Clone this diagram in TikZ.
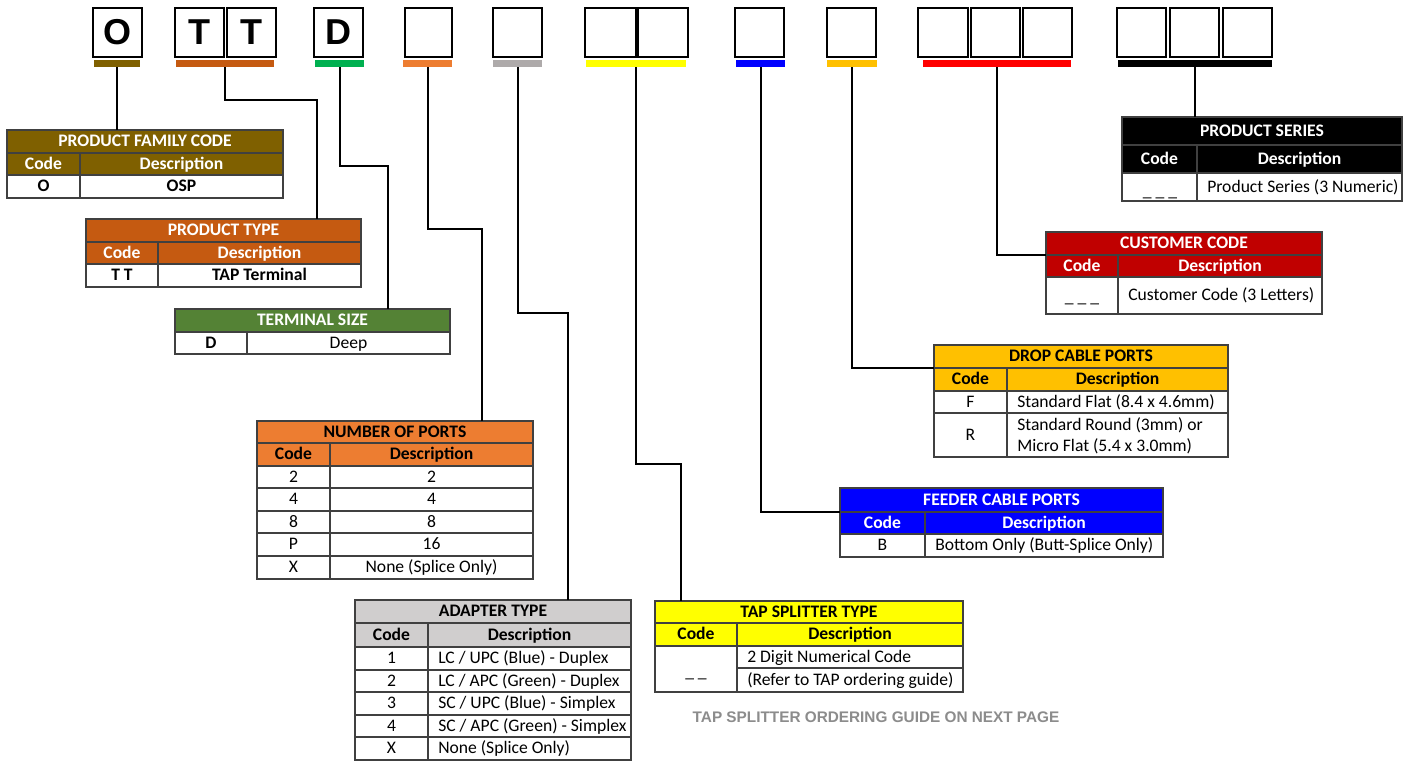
\documentclass[tikz,border=0pt]{standalone}
\usepackage{fontspec}
\setmainfont{Carlito}
\newfontfamily\arialf{Liberation Sans}
\definecolor{cfam}{HTML}{7F6000}
\definecolor{ctype}{HTML}{C55A11}
\definecolor{cterm}{HTML}{548235}
\definecolor{cgreen}{HTML}{00B050}
\definecolor{cports}{HTML}{ED7D31}
\definecolor{cadhdr}{HTML}{D0CECE}
\definecolor{cadbar}{HTML}{AEAAAA}
\definecolor{ctap}{HTML}{FFFF00}
\definecolor{cfeed}{HTML}{0000FF}
\definecolor{cdrop}{HTML}{FFC000}
\definecolor{ccust}{HTML}{C00000}
\definecolor{cred}{HTML}{FF0000}
\definecolor{cgrid}{HTML}{404040}
\definecolor{cnote}{HTML}{8C8C8C}
\newcommand\tf{\fontsize{13.2}{15.8}\selectfont}
\newcommand\cell[7]{%
  \pgfmathsetmacro\cellw{(#4-#2)*0.75}%
  \pgfmathsetmacro\cellh{(#5-#3)*0.75}%
  \node[cellbase, minimum width=\cellw pt, minimum height=\cellh pt, #6] (#1) at ({(#2+#4)/2},{(#3+#5)/2}) {#7};}
\newcommand\lcell[6]{%
  \pgfmathsetmacro\cellw{(#4-#2)*0.75}%
  \pgfmathsetmacro\cellh{(#5-#3)*0.75}%
  \node[cellbase, minimum width=\cellw pt, minimum height=\cellh pt] (#1) at ({(#2+#4)/2},{(#3+#5)/2}) {};
  \node[ltext] (#1-t) at ({#2+10},{(#3+#5)/2}) {#6};}
\newcommand\topbox[4]{%
  \pgfmathsetmacro\cellw{(#3-#2)*0.75}%
  \node[lbox, minimum width=\cellw pt] (#1) at ({(#2+#3)/2},32.5) {#4};}
\newcommand\codebar[4]{%
  \pgfmathsetmacro\cellw{(#3-#2)*0.75}%
  \node[cbar, fill=#4, minimum width=\cellw pt] (#1) at ({(#2+#3)/2},63.5) {};}
\tikzset{
  cellbase/.style={draw=cgrid, line width=0.8pt, inner sep=0pt, outer sep=0pt, font=\tf, anchor=center, fill=white, text height=8.4pt, text depth=0.2pt},
  hdr/.style 2 args={fill=#1, text=#2, font=\tf\bfseries},
  bold/.style={font=\tf\bfseries},
  ltext/.style={anchor=west, inner sep=0pt, font=\tf, align=left, text height=8.4pt, text depth=0.2pt},
  ltwo/.style={anchor=west, inner sep=0pt, font=\tf, align=left},
  lbox/.style={draw=black, line width=1.6pt, inner sep=0pt, minimum height=36.75pt, font=\arialf\bfseries\fontsize{27}{27}\selectfont},
  cbar/.style={draw=none, inner sep=0pt, minimum height=5.25pt},
  conn/.style={draw=black, line width=1.5pt},
  note/.style={font=\arialf\bfseries\fontsize{11.5}{13}\selectfont, text=cnote},
  dashtxt/.style={anchor=base, font=\tf, inner sep=0pt}
}
\begin{document}
\begin{tikzpicture}[x=0.75pt, y=-0.75pt]
\useasboundingbox[fill=white] (0,0) rectangle (1404,761);
% top code boxes
\topbox{bO}{93}{142}{O}
\topbox{bT1}{175}{224}{T}
\topbox{bT2}{227}{276}{T}
\topbox{bD}{314}{363}{D}
\topbox{bP}{405}{452}{}
\topbox{bA}{493}{542}{}
\topbox{bS1}{585}{636}{}
\topbox{bS2}{638}{688}{}
\topbox{bF}{735}{784}{}
\topbox{bDr}{827}{876}{}
\topbox{bC1}{918}{968}{}
\topbox{bC2}{971}{1020}{}
\topbox{bC3}{1023}{1072}{}
\topbox{bSe1}{1117}{1166}{}
\topbox{bSe2}{1170}{1219}{}
\topbox{bSe3}{1223}{1272}{}
% colour bars
\codebar{barO}{94}{140}{cfam}
\codebar{barTT}{176}{274}{ctype}
\codebar{barD}{315}{364}{cgreen}
\codebar{barP}{403}{452}{cports}
\codebar{barA}{493}{542}{cadbar}
\codebar{barS}{586}{686}{ctap}
\codebar{barF}{736}{785}{cfeed}
\codebar{barDr}{827}{877}{cdrop}
\codebar{barC}{923}{1071}{cred}
\codebar{barSe}{1118}{1272}{black}
% PRODUCT FAMILY CODE
\cell{famT}{7}{130}{283}{153}{hdr={cfam}{white}}{PRODUCT FAMILY CODE}
\cell{famC}{7}{153}{80}{175}{hdr={cfam}{white}}{Code}
\cell{famD}{80}{153}{283}{175}{hdr={cfam}{white}}{Description}
\cell{fam1a}{7}{175}{80}{198}{bold}{O}
\cell{fam1b}{80}{175}{283}{198}{bold}{OSP}
% PRODUCT TYPE
\cell{typeT}{86}{219}{361}{242}{hdr={ctype}{white}}{PRODUCT TYPE}
\cell{typeC}{86}{242}{158}{264}{hdr={ctype}{white}}{Code}
\cell{typeD}{158}{242}{361}{264}{hdr={ctype}{white}}{Description}
\cell{type1a}{86}{264}{158}{287}{bold}{T T}
\cell{type1b}{158}{264}{361}{287}{bold}{TAP Terminal}
% TERMINAL SIZE
\cell{termT}{175}{309}{450}{332}{hdr={cterm}{white}}{TERMINAL SIZE}
\cell{term1a}{175}{332}{247}{354}{bold}{D}
\cell{term1b}{247}{332}{450}{354}{}{Deep}
% NUMBER OF PORTS
\cell{portsT}{257}{421}{533}{443}{hdr={cports}{black}}{NUMBER OF PORTS}
\cell{portsC}{257}{443}{330}{466}{hdr={cports}{black}}{Code}
\cell{portsD}{330}{443}{533}{466}{hdr={cports}{black}}{Description}
\cell{p1a}{257}{466}{330}{488}{}{2}
\cell{p1b}{330}{466}{533}{488}{}{2}
\cell{p2a}{257}{488}{330}{511}{}{4}
\cell{p2b}{330}{488}{533}{511}{}{4}
\cell{p3a}{257}{511}{330}{533}{}{8}
\cell{p3b}{330}{511}{533}{533}{}{8}
\cell{p4a}{257}{533}{330}{556}{}{P}
\cell{p4b}{330}{533}{533}{556}{}{16}
\cell{p5a}{257}{556}{330}{579}{}{X}
\cell{p5b}{330}{556}{533}{579}{}{None (Splice Only)}
% ADAPTER TYPE
\cell{adT}{355}{600}{631}{623}{hdr={cadhdr}{black}}{ADAPTER TYPE}
\cell{adC}{355}{623}{428}{647}{hdr={cadhdr}{black}}{Code}
\cell{adD}{428}{623}{631}{647}{hdr={cadhdr}{black}}{Description}
\cell{a1a}{355}{647}{428}{670}{}{1}
\lcell{a1b}{428}{647}{631}{670}{LC / UPC (Blue) - Duplex}
\cell{a2a}{355}{670}{428}{692}{}{2}
\lcell{a2b}{428}{670}{631}{692}{LC / APC (Green) - Duplex}
\cell{a3a}{355}{692}{428}{715}{}{3}
\lcell{a3b}{428}{692}{631}{715}{SC / UPC (Blue) - Simplex}
\cell{a4a}{355}{715}{428}{737}{}{4}
\lcell{a4b}{428}{715}{631}{737}{SC / APC (Green) - Simplex}
\cell{a5a}{355}{737}{428}{760}{}{X}
\lcell{a5b}{428}{737}{631}{760}{None (Splice Only)}
% TAP SPLITTER TYPE
\cell{tapT}{655}{601}{963}{623}{hdr={ctap}{black}}{TAP SPLITTER TYPE}
\cell{tapC}{655}{623}{737}{646}{hdr={ctap}{black}}{Code}
\cell{tapD}{737}{623}{963}{646}{hdr={ctap}{black}}{Description}
\cell{t1a}{655}{646}{737}{692}{}{}
\lcell{t1b}{737}{646}{963}{668}{2 Digit Numerical Code}
\lcell{t2b}{737}{668}{963}{692}{(Refer to TAP ordering guide)}
\node[dashtxt] (tdash) at (696,677) {\_ \_};
\node[note] (tnote) at (876,717) {TAP SPLITTER ORDERING GUIDE ON NEXT PAGE};
% FEEDER CABLE PORTS
\cell{feT}{840}{488}{1163}{512}{hdr={cfeed}{white}}{FEEDER CABLE PORTS}
\cell{feC}{840}{512}{925}{534}{hdr={cfeed}{white}}{Code}
\cell{feD}{925}{512}{1163}{534}{hdr={cfeed}{white}}{Description}
\cell{f1a}{840}{534}{925}{557}{}{B}
\lcell{f1b}{925}{534}{1163}{557}{Bottom Only (Butt-Splice Only)}
% DROP CABLE PORTS
\cell{drT}{934}{345}{1228}{368}{hdr={cdrop}{black}}{DROP CABLE PORTS}
\cell{drC}{934}{368}{1007}{391}{hdr={cdrop}{black}}{Code}
\cell{drD}{1007}{368}{1228}{391}{hdr={cdrop}{black}}{Description}
\cell{d1a}{934}{391}{1007}{413}{}{F}
\lcell{d1b}{1007}{391}{1228}{413}{Standard Flat (8.4 x 4.6mm)}
\cell{d2a}{934}{413}{1007}{457}{}{R}
\cell{d2b}{1007}{413}{1228}{457}{}{}
\node[ltwo] (d2b-t) at (1017,436) {Standard Round (3mm) or\\Micro Flat (5.4 x 3.0mm)};
% CUSTOMER CODE
\cell{cuT}{1046}{232}{1322}{255}{hdr={ccust}{white}}{CUSTOMER CODE}
\cell{cuC}{1046}{255}{1118}{277}{hdr={ccust}{white}}{Code}
\cell{cuD}{1118}{255}{1322}{277}{hdr={ccust}{white}}{Description}
\cell{c1a}{1046}{277}{1118}{314}{}{}
\lcell{c1b}{1118}{277}{1322}{314}{Customer Code (3 Letters)}
\node[dashtxt] (cdash) at (1082,302) {\_ \_ \_};
% PRODUCT SERIES
\cell{seT}{1122}{117}{1402}{145}{hdr={black}{white}}{PRODUCT SERIES}
\cell{seC}{1122}{145}{1197}{173}{hdr={black}{white}}{Code}
\cell{seD}{1197}{145}{1402}{173}{hdr={black}{white}}{Description}
\cell{s1a}{1122}{173}{1197}{201}{}{}
\lcell{s1b}{1197}{173}{1402}{201}{Product Series (3 Numeric)}
\node[dashtxt] (sdash) at (1160,196) {\_ \_ \_};
% connectors
\draw[conn] (barO.south) -- (famT.north -| barO.south);
\draw[conn] (barTT.south) |- (317,100) -- (typeT.north -| 317,0);
\draw[conn] (barD.south) |- (388,166) -- (termT.north -| 388,0);
\draw[conn] (barP.south) |- (482,229) -- (portsT.north -| 482,0);
\draw[conn] (barA.south) |- (568,313) -- (adT.north -| 568,0);
\draw[conn] (barS.south) |- (681,464) -- (tapT.north -| 681,0);
\draw[conn] (barF.south) |- (feC.north west);
\draw[conn] (barDr.south) |- (drC.north west);
\draw[conn] (barC.south) |- (cuC.north west);
\draw[conn] (barSe.south) -- (seT.north -| barSe.south);
\end{tikzpicture}
\end{document}
